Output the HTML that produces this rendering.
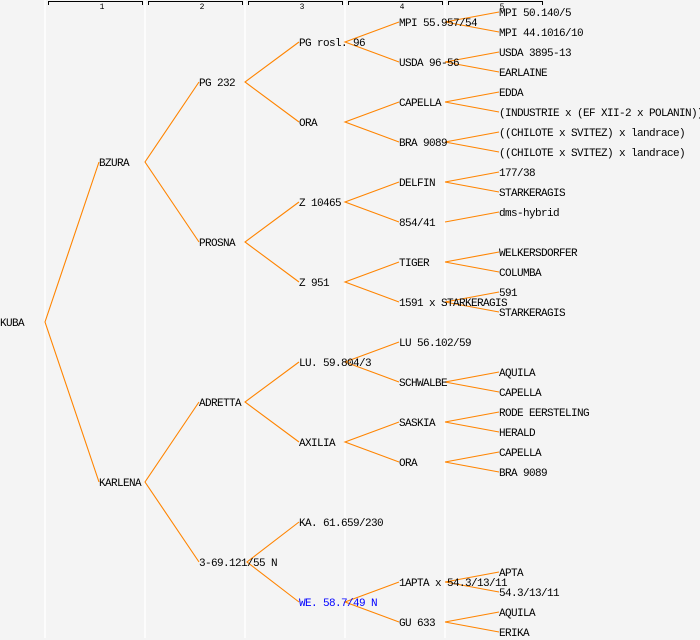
<!DOCTYPE html>
<html><head><style>
html,body{margin:0;padding:0;background:#f4f4f4;}
svg{display:block;}
text{font-family:"Liberation Mono",monospace;font-size:11px;letter-spacing:-0.6px;fill:#000;}
.h{font-size:8px;letter-spacing:0;}
</style></head><body>
<svg width="700" height="640" xmlns="http://www.w3.org/2000/svg">
<rect width="700" height="640" fill="#f4f4f4"/>
<g stroke="#fff" stroke-width="1.5">
<line x1="45" y1="0" x2="45" y2="638"/><line x1="145" y1="0" x2="145" y2="638"/>
<line x1="245" y1="0" x2="245" y2="638"/><line x1="345" y1="0" x2="345" y2="638"/>
<line x1="445" y1="0" x2="445" y2="638"/>
</g>
<g stroke="#000" stroke-width="1" fill="none">
<path d="M48.5 5V1.5H142.5V5"/><path d="M148.5 5V1.5H242.5V5"/><path d="M248.5 5V1.5H342.5V5"/><path d="M348.5 5V1.5H442.5V5"/><path d="M448.5 5V1.5H542.5V5"/>
</g>
<g text-anchor="middle">
<text class="h" x="102" y="9">1</text><text class="h" x="202" y="9">2</text><text class="h" x="302" y="9">3</text><text class="h" x="402" y="9">4</text><text class="h" x="502" y="9">5</text>
</g>
<g stroke="#ff8400" stroke-width="1.1" fill="none">
<path d="M99 162L45 322L99 482"/>
<path d="M199 82L145 162L199 242"/><path d="M199 402L145 482L199 562"/>
<path d="M299 42L245 82L299 122"/><path d="M299 202L245 242L299 282"/><path d="M299 362L245 402L299 442"/><path d="M299 522L247 562L299 602"/>
<path d="M399 22L345 42L399 62"/><path d="M399 102L345 122L399 142"/><path d="M399 182L345 202L399 222"/><path d="M399 262L345 282L399 302"/><path d="M399 342L345 362L399 382"/><path d="M399 422L345 442L399 462"/><path d="M399 582L345 602L399 622"/>
<path d="M499 12L445 22L499 32"/><path d="M499 52L445 62L499 72"/><path d="M499 92L445 102L499 112"/><path d="M499 132L445 142L499 152"/><path d="M499 172L445 182L499 192"/><path d="M445 222L499 212"/><path d="M499 252L445 262L499 272"/><path d="M499 292L445 302L499 312"/><path d="M499 372L445 382L499 392"/><path d="M499 412L445 422L499 432"/><path d="M499 452L445 462L499 472"/><path d="M499 572L445 582L499 592"/><path d="M499 612L445 622L499 632"/>
</g>
<g>
<text x="0" y="326">KUBA</text>
<text x="99" y="166">BZURA</text><text x="99" y="486">KARLENA</text>
<text x="199" y="86">PG 232</text><text x="199" y="246">PROSNA</text><text x="199" y="406">ADRETTA</text><text x="199" y="566">3-69.121/55 N</text>
<text x="299" y="46">PG rosl. 96</text><text x="299" y="126">ORA</text><text x="299" y="206">Z 10465</text><text x="299" y="286">Z 951</text><text x="299" y="366">LU. 59.804/3</text><text x="299" y="446">AXILIA</text><text x="299" y="526">KA. 61.659/230</text><text x="299" y="606" style="fill:#0000ff">WE. 58.7/49 N</text>
<text x="399" y="26">MPI 55.957/54</text><text x="399" y="66">USDA 96-56</text><text x="399" y="106">CAPELLA</text><text x="399" y="146">BRA 9089</text><text x="399" y="186">DELFIN</text><text x="399" y="226">854/41</text><text x="399" y="266">TIGER</text><text x="399" y="306">1591 x STARKERAGIS</text><text x="399" y="346">LU 56.102/59</text><text x="399" y="386">SCHWALBE</text><text x="399" y="426">SASKIA</text><text x="399" y="466">ORA</text><text x="399" y="586">1APTA x 54.3/13/11</text><text x="399" y="626">GU 633</text>
<text x="499" y="16">MPI 50.140/5</text><text x="499" y="36">MPI 44.1016/10</text><text x="499" y="56">USDA 3895-13</text><text x="499" y="76">EARLAINE</text><text x="499" y="96">EDDA</text><text x="499" y="116">(INDUSTRIE x (EF XII-2 x POLANIN))</text><text x="499" y="136">((CHILOTE x SVITEZ) x landrace)</text><text x="499" y="156">((CHILOTE x SVITEZ) x landrace)</text><text x="499" y="176">177/38</text><text x="499" y="196">STARKERAGIS</text><text x="499" y="216">dms-hybrid</text><text x="499" y="256">WELKERSDORFER</text><text x="499" y="276">COLUMBA</text><text x="499" y="296">591</text><text x="499" y="316">STARKERAGIS</text><text x="499" y="376">AQUILA</text><text x="499" y="396">CAPELLA</text><text x="499" y="416">RODE EERSTELING</text><text x="499" y="436">HERALD</text><text x="499" y="456">CAPELLA</text><text x="499" y="476">BRA 9089</text><text x="499" y="576">APTA</text><text x="499" y="596">54.3/13/11</text><text x="499" y="616">AQUILA</text><text x="499" y="636">ERIKA</text>
</g>
</svg>
</body></html>
